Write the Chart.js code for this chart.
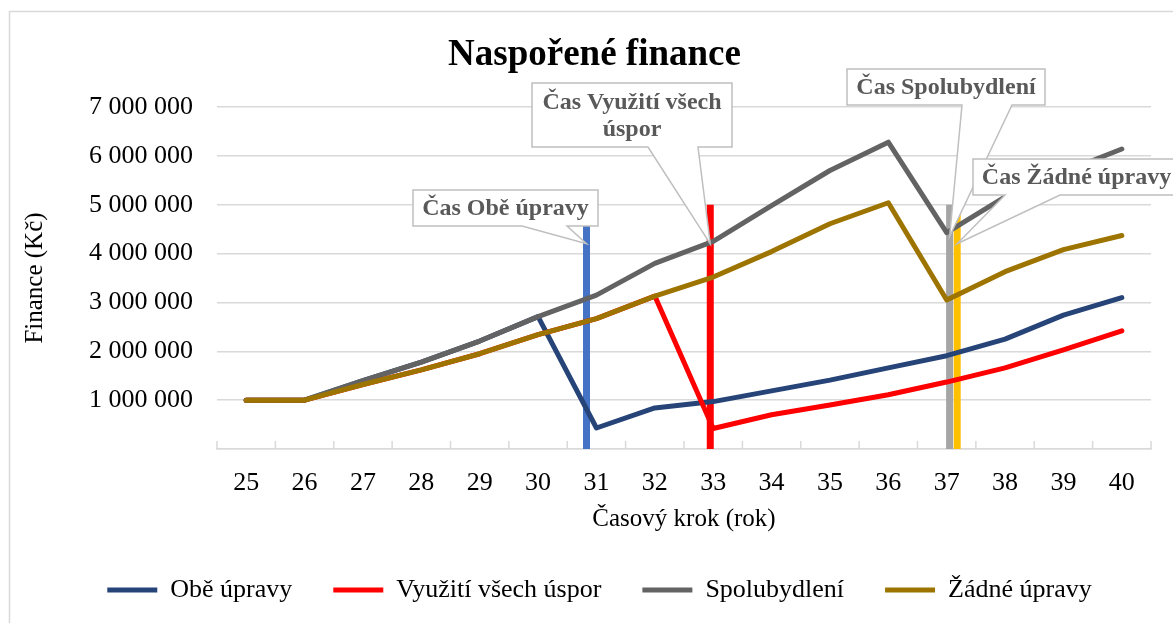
<!DOCTYPE html>
<html lang="cs">
<head>
<meta charset="utf-8">
<title>Naspořené finance</title>
<script src="https://cdn.jsdelivr.net/npm/chart.js@4.4.1/dist/chart.umd.min.js"></script>
<style>
  html, body { margin: 0; padding: 0; background: #fff; }
  #wrap { width: 1173px; height: 623px; }
</style>
</head>
<body>
<div id="wrap"><canvas id="financeChart" width="1173" height="623"></canvas></div>
<script>
// časové kroky (roky)
const years = ['25', '26', '27', '28', '29', '30', '31', '32', '33', '34', '35', '36', '37', '38', '39', '40'];

// naspořené finance pro jednotlivé scénáře (Kč)
const obeUpravy    = [1000000, 1000000, 1400000, 1780000, 2210000, 2710000, 430000, 840000, 970000, 1190000, 1410000, 1660000, 1910000, 2250000, 2740000, 3100000];
const vyuzitiUspor = [1000000, 1000000, 1320000, 1620000, 1950000, 2340000, 2670000, 3130000, 420000, 700000, 900000, 1110000, 1370000, 1660000, 2030000, 2420000];
const spolubydleni = [1000000, 1000000, 1400000, 1780000, 2210000, 2710000, 3150000, 3800000, 4250000, 4980000, 5700000, 6280000, 4430000, 5160000, 5670000, 6140000];
const zadneUpravy  = [1000000, 1000000, 1320000, 1620000, 1950000, 2340000, 2670000, 3130000, 3520000, 4040000, 4610000, 5040000, 3050000, 3630000, 4080000, 4370000];

// okamžiky změny (svislé značky) a jejich popisky
const casLabels = ['Čas Obě úpravy', 'Čas Využití všech úspor', 'Čas Spolubydlení', 'Čas Žádné úpravy'];
const casPoints = [30.83, 32.95, 37.05, 37.18];
const casTops   = [5000000, 5000000, 5000000, 5000000];

// osa Y
const yTicks = [0, 1000000, 2000000, 3000000, 4000000, 5000000, 6000000, 7000000];

const seriesNames  = ['Obě úpravy', 'Využití všech úspor', 'Spolubydlení', 'Žádné úpravy'];
const seriesColors = ['#264478', '#ff0000', '#636363', '#9e7400'];
const markerColors = ['#4472c4', '#ff0000', '#a5a5a5', '#ffc000'];

// rámečky popisků (px) a bod, na který ukazují (hodnota na ose Y)
const calloutBoxes = [
  { left: 413, top: 190, right: 598, bottom: 226, tail: [522, 567], at: 4200000 },
  { left: 532, top: 83, right: 732, bottom: 147, tail: [648, 698], at: 4200000 },
  { left: 847, top: 69, right: 1045, bottom: 105, tail: [962, 1012], at: 4350000 },
  { left: 973, top: 159, right: 1180, bottom: 195, tail: [1005, 1060], at: 4200000 }
];

const serif = "'Liberation Serif', 'Times New Roman', serif";
Chart.defaults.font.family = serif;
Chart.defaults.color = '#000';

function formatThousands(v) {
  return String(v).replace(/\B(?=(\d{3})+(?!\d))/g, ' ');
}

function wrapText(ctx, text, maxWidth) {
  const words = text.split(' ');
  const lines = [];
  let line = '';
  words.forEach(w => {
    const test = line ? line + ' ' + w : w;
    if (line && ctx.measureText(test).width > maxWidth) {
      lines.push(line);
      line = w;
    } else {
      line = test;
    }
  });
  lines.push(line);
  return lines;
}

// bílé pozadí a rámeček grafu
const chartFrame = {
  id: 'chartFrame',
  beforeDraw(chart) {
    const ctx = chart.ctx;
    ctx.save();
    ctx.fillStyle = '#fff';
    ctx.fillRect(0, 0, chart.width, chart.height);
    ctx.strokeStyle = '#d9d9d9';
    ctx.lineWidth = 1.5;
    ctx.strokeRect(9.5, 11.5, chart.width + 20, chart.height + 20);
    ctx.restore();
  }
};

// vnitřní značky osy X mezi kategoriemi
const innerTicks = {
  id: 'innerTicks',
  beforeDatasetsDraw(chart) {
    const ctx = chart.ctx;
    const xs = chart.scales.x2;
    const bottom = chart.chartArea.bottom;
    ctx.save();
    ctx.strokeStyle = '#d9d9d9';
    ctx.lineWidth = 1.5;
    ctx.beginPath();
    for (let i = 0; i <= years.length; i++) {
      const px = xs.getPixelForValue(Number(years[0]) - 0.5 + i);
      ctx.moveTo(px, bottom);
      ctx.lineTo(px, bottom - 8);
    }
    ctx.stroke();
    ctx.restore();
  }
};

// popisky svislých značek
const callouts = {
  id: 'callouts',
  afterDatasetsDraw(chart) {
    const ctx = chart.ctx;
    const xs = chart.scales.x2;
    const ys = chart.scales.y;
    ctx.save();
    ctx.font = 'bold 24px ' + serif;
    calloutBoxes.forEach((b, i) => {
      const ax = xs.getPixelForValue(casPoints[i]);
      const ay = ys.getPixelForValue(b.at);
      ctx.beginPath();
      ctx.moveTo(b.left, b.top);
      ctx.lineTo(b.right, b.top);
      ctx.lineTo(b.right, b.bottom);
      ctx.lineTo(b.tail[1], b.bottom);
      ctx.lineTo(ax, ay);
      ctx.lineTo(b.tail[0], b.bottom);
      ctx.lineTo(b.left, b.bottom);
      ctx.closePath();
      ctx.fillStyle = '#fff';
      ctx.fill();
      ctx.strokeStyle = '#bfbfbf';
      ctx.lineWidth = 1.5;
      ctx.stroke();

      const lines = wrapText(ctx, casLabels[i], b.right - b.left - 10);
      const lh = 27;
      const cx = (b.left + Math.min(b.right, chart.width + 12)) / 2;
      const cy = (b.top + b.bottom) / 2 - (lines.length - 1) * lh / 2;
      ctx.fillStyle = '#595959';
      ctx.textAlign = 'center';
      ctx.textBaseline = 'middle';
      lines.forEach((t, k) => ctx.fillText(t, cx, cy + k * lh + 1));
    });
    ctx.restore();
  }
};

// posun legendy vodorovně
const legendNudge = {
  id: 'legendNudge',
  afterLayout(chart) {
    if (chart.legend) {
      chart.legend.left += 5;
      chart.legend.right += 5;
    }
  }
};

const seriesData = [obeUpravy, vyuzitiUspor, spolubydleni, zadneUpravy];

const lineDatasets = seriesData.map((d, i) => ({
  type: 'line',
  label: seriesNames[i],
  data: d,
  xAxisID: 'x',
  borderColor: seriesColors[i],
  backgroundColor: seriesColors[i],
  borderWidth: 5,
  borderCapStyle: 'round',
  borderJoinStyle: 'round',
  pointRadius: 0,
  tension: 0,
  order: 3 - i
}));

const markerDatasets = casPoints.map((x, i) => ({
  type: 'line',
  label: casLabels[i],
  data: [{ x: x, y: 0 }, { x: x, y: casTops[i] }],
  xAxisID: 'x2',
  borderColor: markerColors[i],
  backgroundColor: markerColors[i],
  borderWidth: 7,
  borderCapStyle: 'butt',
  pointRadius: 0,
  order: 10
}));

new Chart(document.getElementById('financeChart'), {
  type: 'line',
  data: {
    labels: years,
    datasets: lineDatasets.concat(markerDatasets)
  },
  options: {
    responsive: false,
    animation: false,
    devicePixelRatio: 1,
    layout: { padding: { left: 38, right: 22, top: 10, bottom: 10 } },
    plugins: {
      title: {
        display: true,
        text: 'Naspořené finance',
        color: '#000',
        font: { size: 37, weight: 'bold', family: serif },
        padding: { top: 23, bottom: 29.6 }
      },
      legend: {
        position: 'bottom',
        labels: {
          color: '#000',
          font: { size: 26, family: serif },
          usePointStyle: true,
          pointStyle: 'line',
          pointStyleWidth: 50,
          padding: 41,
          filter: item => item.datasetIndex < seriesNames.length,
          sort: (a, b) => a.datasetIndex - b.datasetIndex
        }
      },
      tooltip: { enabled: false }
    },
    scales: {
      x: {
        type: 'category',
        offset: true,
        grid: { display: false },
        border: { display: true, color: '#d9d9d9', width: 1.5 },
        ticks: { font: { size: 26 }, color: '#000', padding: 11, maxRotation: 0, autoSkip: false },
        title: {
          display: true,
          text: 'Časový krok (rok)',
          color: '#000',
          font: { size: 25 },
          padding: { top: 0, bottom: 2 }
        },
        afterFit: s => { s.height = 87; }
      },
      x2: {
        type: 'linear',
        display: false,
        min: Number(years[0]) - 0.5,
        max: Number(years[years.length - 1]) + 0.5
      },
      y: {
        min: yTicks[0],
        max: yTicks[yTicks.length - 1],
        afterBuildTicks: s => { s.ticks = yTicks.map(v => ({ value: v })); },
        grid: { color: '#d9d9d9', lineWidth: 1.5, drawTicks: false },
        border: { display: false },
        ticks: {
          font: { size: 26 },
          color: '#000',
          padding: 24,
          callback: v => (v === 0 ? '' : formatThousands(v))
        },
        title: {
          display: true,
          text: 'Finance (Kč)',
          color: '#000',
          font: { size: 25 },
          padding: { top: -18, bottom: 0 }
        },
        afterFit: s => { s.width = 179; }
      }
    }
  },
  plugins: [chartFrame, innerTicks, callouts, legendNudge]
});
</script>
</body>
</html>
